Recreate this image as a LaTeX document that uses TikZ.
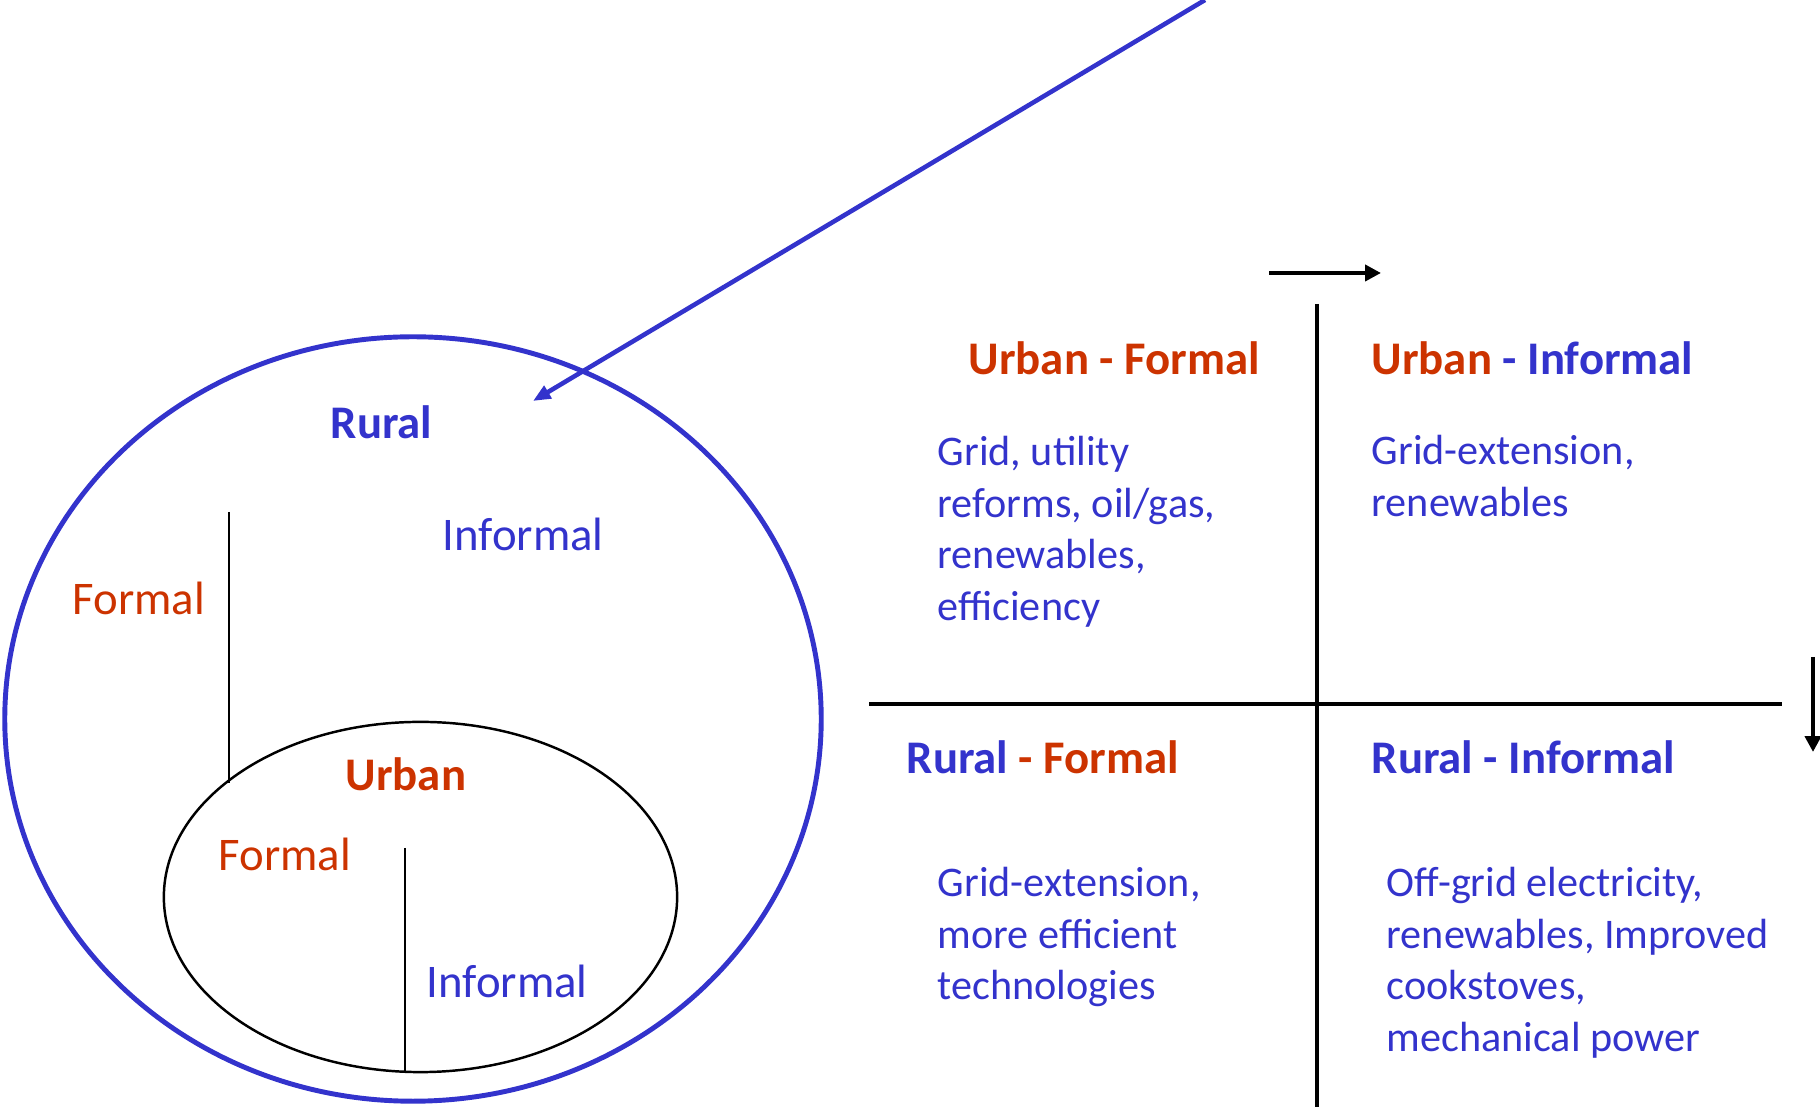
\documentclass[tikz,border=0pt]{standalone}
\usepackage{fontspec}
\setmainfont{Carlito}
\usepackage{xcolor}
\definecolor{sectorblue}{RGB}{51, 51, 204}
\definecolor{sectorred}{RGB}{204, 51, 0}
\usetikzlibrary{arrows.meta,positioning}

\begin{document}
\begin{tikzpicture}[x=0.01cm, y=-0.01cm,
    label/.style={inner sep=0pt, anchor=base west, font=\fontsize{13.3}{16}\selectfont},
    heading/.style={label, font=\fontsize{13.3}{16}\selectfont\bfseries},
    body/.style={inner sep=0pt, anchor=base west, align=left, text=sectorblue,
        font=\fontsize{12}{14.65}\selectfont},
    divider/.style={line width=1.25pt},
    pointer/.style={line width=1.3pt, -{Triangle[length=4.5pt, width=4.5pt]}}]
    \useasboundingbox (0,0) rectangle (1820,1107);

    % Rural area with the urban area inside it
    \draw[sectorblue, line width=1.4pt] (413,719) ellipse (4.08cm and 3.82cm);
    \draw[line width=0.7pt] (420.5,897) ellipse (2.565cm and 1.75cm);

    % Formal / informal split lines
    \coordinate (ruraltop) at (229,512);
    \coordinate (ruralbot) at (229,783);
    \coordinate (urbantop) at (405,848);
    \coordinate (urbanbot) at (405,1072);
    \draw[line width=0.85pt] (ruraltop) -- (ruralbot);
    \draw[line width=0.85pt] (urbantop) -- (urbanbot);

    % Labels in the circle
    \node[heading, text=sectorblue] (rural) at (330,439) {Rural};
    \node[label, text=sectorblue] (ruralinf) at (442,551) {Informal};
    \node[label, text=sectorred] (ruralfor) at (72,615) {Formal};
    \node[heading, text=sectorred] (urban) at (345,791) {Urban};
    \node[label, text=sectorred] (urbanfor) at (218,871) {Formal};
    \node[label, text=sectorblue] (urbaninf) at (426,998) {Informal};

    % Pointer coming in from above
    \coordinate (zoomfrom) at (1205,0);
    \coordinate (zoomto) at (533,401);
    \draw[pointer, sectorblue, line width=1.3pt,
        -{Triangle[length=5pt, width=4pt]}] (zoomfrom) -- (zoomto);

    % Quadrant axes
    \coordinate (vtop) at (1317,304);
    \coordinate (vbot) at (1317,1107);
    \coordinate (hleft) at (869,704);
    \coordinate (hright) at (1782,704);
    \draw[divider] (vtop) -- (vbot);
    \draw[divider] (hleft) -- (hright);

    % Direction arrows
    \coordinate (rightfrom) at (1269,273);
    \coordinate (rightto) at (1381,273);
    \coordinate (downfrom) at (1813,657);
    \coordinate (downto) at (1813,752);
    \draw[pointer] (rightfrom) -- (rightto);
    \draw[pointer] (downfrom) -- (downto);

    % Quadrant headings
    \node[heading, text=sectorred] (uf) at (968,375) {Urban - Formal};
    \node[heading] (ui) at (1371,375)
        {\textcolor{sectorred}{Urban} \textcolor{sectorblue}{- Informal}};
    \node[heading] (rf) at (906,774)
        {\textcolor{sectorblue}{Rural} \textcolor{sectorred}{- Formal}};
    \node[heading, text=sectorblue] (ri) at (1371,774) {Rural - Informal};

    % Quadrant contents (placed by the baseline of the last line)
    \node[body] (ufbody) at (937,620.5)
        {Grid, utility\\reforms, oil/gas,\\renewables,\\efficiency};
    \node[body] (uibody) at (1371,516.5)
        {Grid-extension,\\renewables};
    \node[body] (rfbody) at (937,1000)
        {Grid-extension,\\more efficient\\technologies};
    \node[body] (ribody) at (1386,1051.5)
        {Off-grid electricity,\\renewables, Improved\\cookstoves,\\mechanical power};
\end{tikzpicture}
\end{document}
